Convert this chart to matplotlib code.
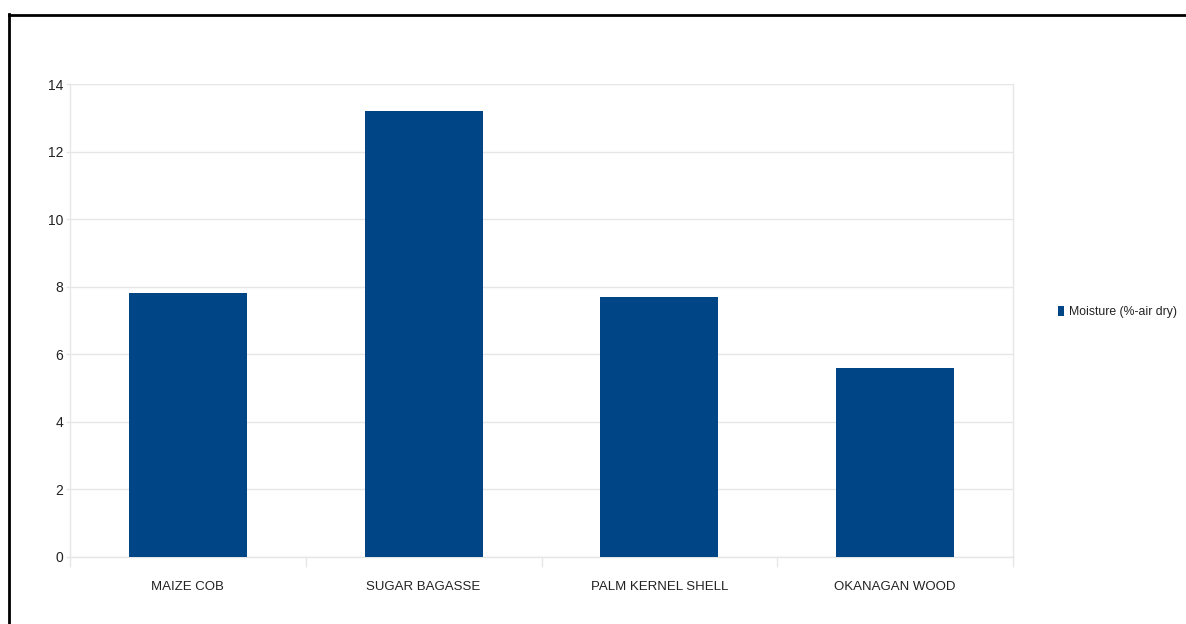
import matplotlib
matplotlib.use("Agg")
import matplotlib.pyplot as plt
from matplotlib.lines import Line2D
import numpy as np

categories = ["MAIZE COB", "SUGAR BAGASSE", "PALM KERNEL SHELL", "OKANAGAN WOOD"]
moisture = [7.8, 13.2, 7.7, 5.6]
series_name = "Moisture (%-air dry)"
y_ticks = [0, 2, 4, 6, 8, 10, 12, 14]

bar_color = "#004586"
grid_color = "#e6e6e6"
text_color = "#222222"

plt.rcParams["font.family"] = ["Liberation Sans", "DejaVu Sans"]

W, H = 1186, 624
fig = plt.figure(figsize=(W / 100, H / 100), dpi=100)
fig.patch.set_facecolor("white")

ax = fig.add_axes([70 / W, 1 - 557 / H, (1013 - 70) / W, (557 - 84) / H])

x = np.arange(len(categories))
ax.bar(x, moisture, width=0.5, color=bar_color, label=series_name, zorder=3)

ax.set_xlim(-0.5, len(categories) - 0.5)
ax.set_ylim(0, 14)
ax.set_yticks(y_ticks)
ax.set_yticklabels([str(t) for t in y_ticks], fontsize=10, color=text_color)

ax.set_xticks(x)
ax.set_xticklabels(categories, fontsize=9.5, color=text_color)
ax.tick_params(axis="x", which="major", length=0, pad=17)
ax.set_xticks(np.arange(-0.5, len(categories)), minor=True)
ax.tick_params(axis="x", which="minor", length=7, color=grid_color, width=1)
ax.tick_params(axis="y", length=3, color=grid_color, width=1, pad=2)

ax.yaxis.grid(True, color=grid_color, linewidth=1, zorder=0)
ax.set_axisbelow(True)
for side in ["left", "right", "bottom"]:
    ax.spines[side].set_color(grid_color)
    ax.spines[side].set_linewidth(1)
ax.spines["top"].set_visible(False)

leg = fig.legend(loc="center left", bbox_to_anchor=(1058 / W, 1 - 312 / H),
                 frameon=False, fontsize=8.8, handlelength=0.5, handleheight=0.9,
                 handletextpad=0.4, borderpad=0, borderaxespad=0)
for t in leg.get_texts():
    t.set_color(text_color)

# outer frame along the top and left edges
fig.add_artist(Line2D([8.5 / W, 8.5 / W], [0, 1 - 14 / H], transform=fig.transFigure,
                      color="black", linewidth=2))
fig.add_artist(Line2D([8.5 / W, 1], [1 - 14.5 / H, 1 - 14.5 / H], transform=fig.transFigure,
                      color="black", linewidth=2))

fig.savefig("out.png", dpi=100)
